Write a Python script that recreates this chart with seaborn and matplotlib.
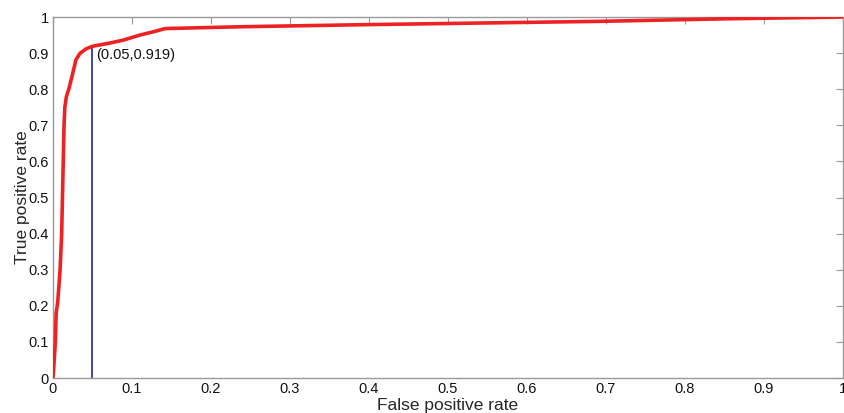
import matplotlib
matplotlib.use("Agg")
import matplotlib.pyplot as plt
import seaborn as sns
import pandas as pd

fpr = [0.0, 0.001, 0.003, 0.004, 0.006, 0.009, 0.011, 0.012, 0.013, 0.014, 0.015, 0.017,
       0.020, 0.025, 0.029, 0.034, 0.042, 0.050, 0.070, 0.089, 0.110, 0.127, 0.142,
       0.237, 0.400, 0.692, 0.850, 1.0]
tpr = [0.0, 0.03, 0.10, 0.18, 0.21, 0.30, 0.40, 0.50, 0.60, 0.70, 0.75, 0.78,
       0.80, 0.844, 0.881, 0.899, 0.912, 0.919, 0.927, 0.936, 0.950, 0.959, 0.968,
       0.973, 0.979, 0.988, 0.995, 1.0]
marker_x = 0.05
marker_y = 0.919
ticks = [0, 0.1, 0.2, 0.3, 0.4, 0.5, 0.6, 0.7, 0.8, 0.9, 1]
tick_labels = ["0", "0.1", "0.2", "0.3", "0.4", "0.5", "0.6", "0.7", "0.8", "0.9", "1"]

sns.set_style("white")
plt.rcParams['font.family'] = ['Liberation Sans', 'DejaVu Sans']

df = pd.DataFrame({"fpr": fpr, "tpr": tpr})
fig = plt.figure(figsize=(8.45, 4.13), dpi=100)
ax = fig.add_axes([0.0627, 0.0847, 0.9349, 0.8741])

sns.lineplot(data=df, x="fpr", y="tpr", ax=ax, color="#ee2222", linewidth=2.6,
             sort=False, estimator=None, zorder=3)
ax.plot([marker_x, marker_x], [0, marker_y], color="#2b3f9e", linewidth=1.3, zorder=2)
ax.text(marker_x + 0.005, marker_y - 0.005, f"({marker_x},{marker_y})", fontsize=10.5,
        va="top", ha="left", color="#111111")

ax.set_xlim(0, 1)
ax.set_ylim(0, 1)
ax.set_xticks(ticks)
ax.set_xticklabels(tick_labels)
ax.set_yticks(ticks)
ax.set_yticklabels(tick_labels)
ax.tick_params(direction="in", length=5, color="#999999", labelsize=10.5,
               top=True, right=True, labelcolor="#111111", pad=3)
for s in ax.spines.values():
    s.set_color("#999999")
    s.set_linewidth(1.0)
ax.set_xlabel("False positive rate", fontsize=12.5, labelpad=1)
ax.set_ylabel("True positive rate", fontsize=12.5, labelpad=-1)

fig.savefig("out.png", dpi=100)
